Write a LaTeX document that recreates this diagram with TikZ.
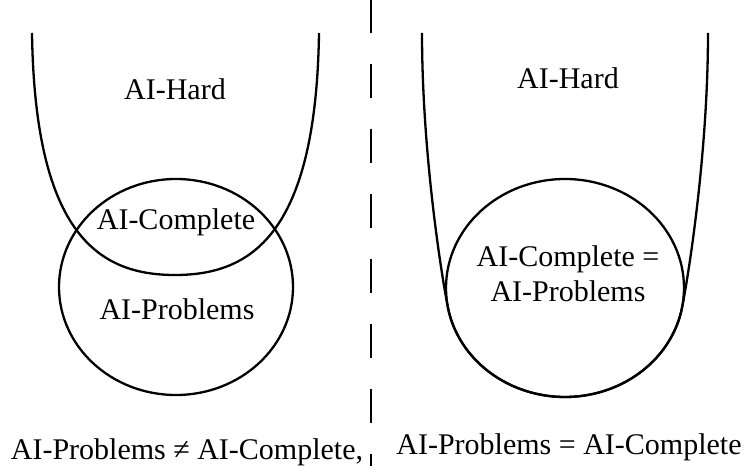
\documentclass[tikz,border=0pt]{standalone}
\usepackage{fontspec}
\setmainfont{Liberation Serif}
\begin{document}
\begin{tikzpicture}[x=1pt,y=1pt,
  curve/.style={line width=2.3pt,black},
  lbl/.style={font=\fontsize{30}{35}\selectfont,anchor=base,inner sep=0pt}]
\fill[white] (0,0) rectangle (750,466);
\useasboundingbox (0,0) rectangle (750,466);
% divider
\coordinate (dtop) at (371,532);
\coordinate (dbot) at (371,-20);
\draw[line width=2.6pt,dash pattern=on 34pt off 31pt] (dtop) -- (dbot);
% left U (AI-Hard)
\draw[curve] (32,433) .. controls (35,230) and (100,191) .. (175,191)
  .. controls (250,191) and (316,230) .. (319,433);
% left circle (AI-Problems)
\draw[curve] (176,179) ellipse [x radius=117, y radius=108];
% right U and circle
\draw[curve] (565,178) ellipse [x radius=119, y radius=109];
\draw[curve] (422,433) .. controls (422,320) and (439.5,202) .. (447.8,159.1)
  arc [start angle=190, end angle=350, x radius=119, y radius=109]
  .. controls (690.5,202) and (708,320) .. (708,433);
% labels
\node[lbl] (hardL) at (175,366) {AI-Hard};
\node[lbl] (compL) at (176,236) {AI-Complete};
\node[lbl] (probL) at (177,146) {AI-Problems};
\node[lbl] (hardR) at (568,377) {AI-Hard};
\node[lbl] (compR) at (568,199) {AI-Complete =};
\node[lbl] (probR) at (568,164) {AI-Problems};
\node[lbl] (capL) at (187,6) {AI-Problems ≠ AI-Complete,};
\node[lbl] (capR) at (569,11) {AI-Problems = AI-Complete};
\end{tikzpicture}
\end{document}
